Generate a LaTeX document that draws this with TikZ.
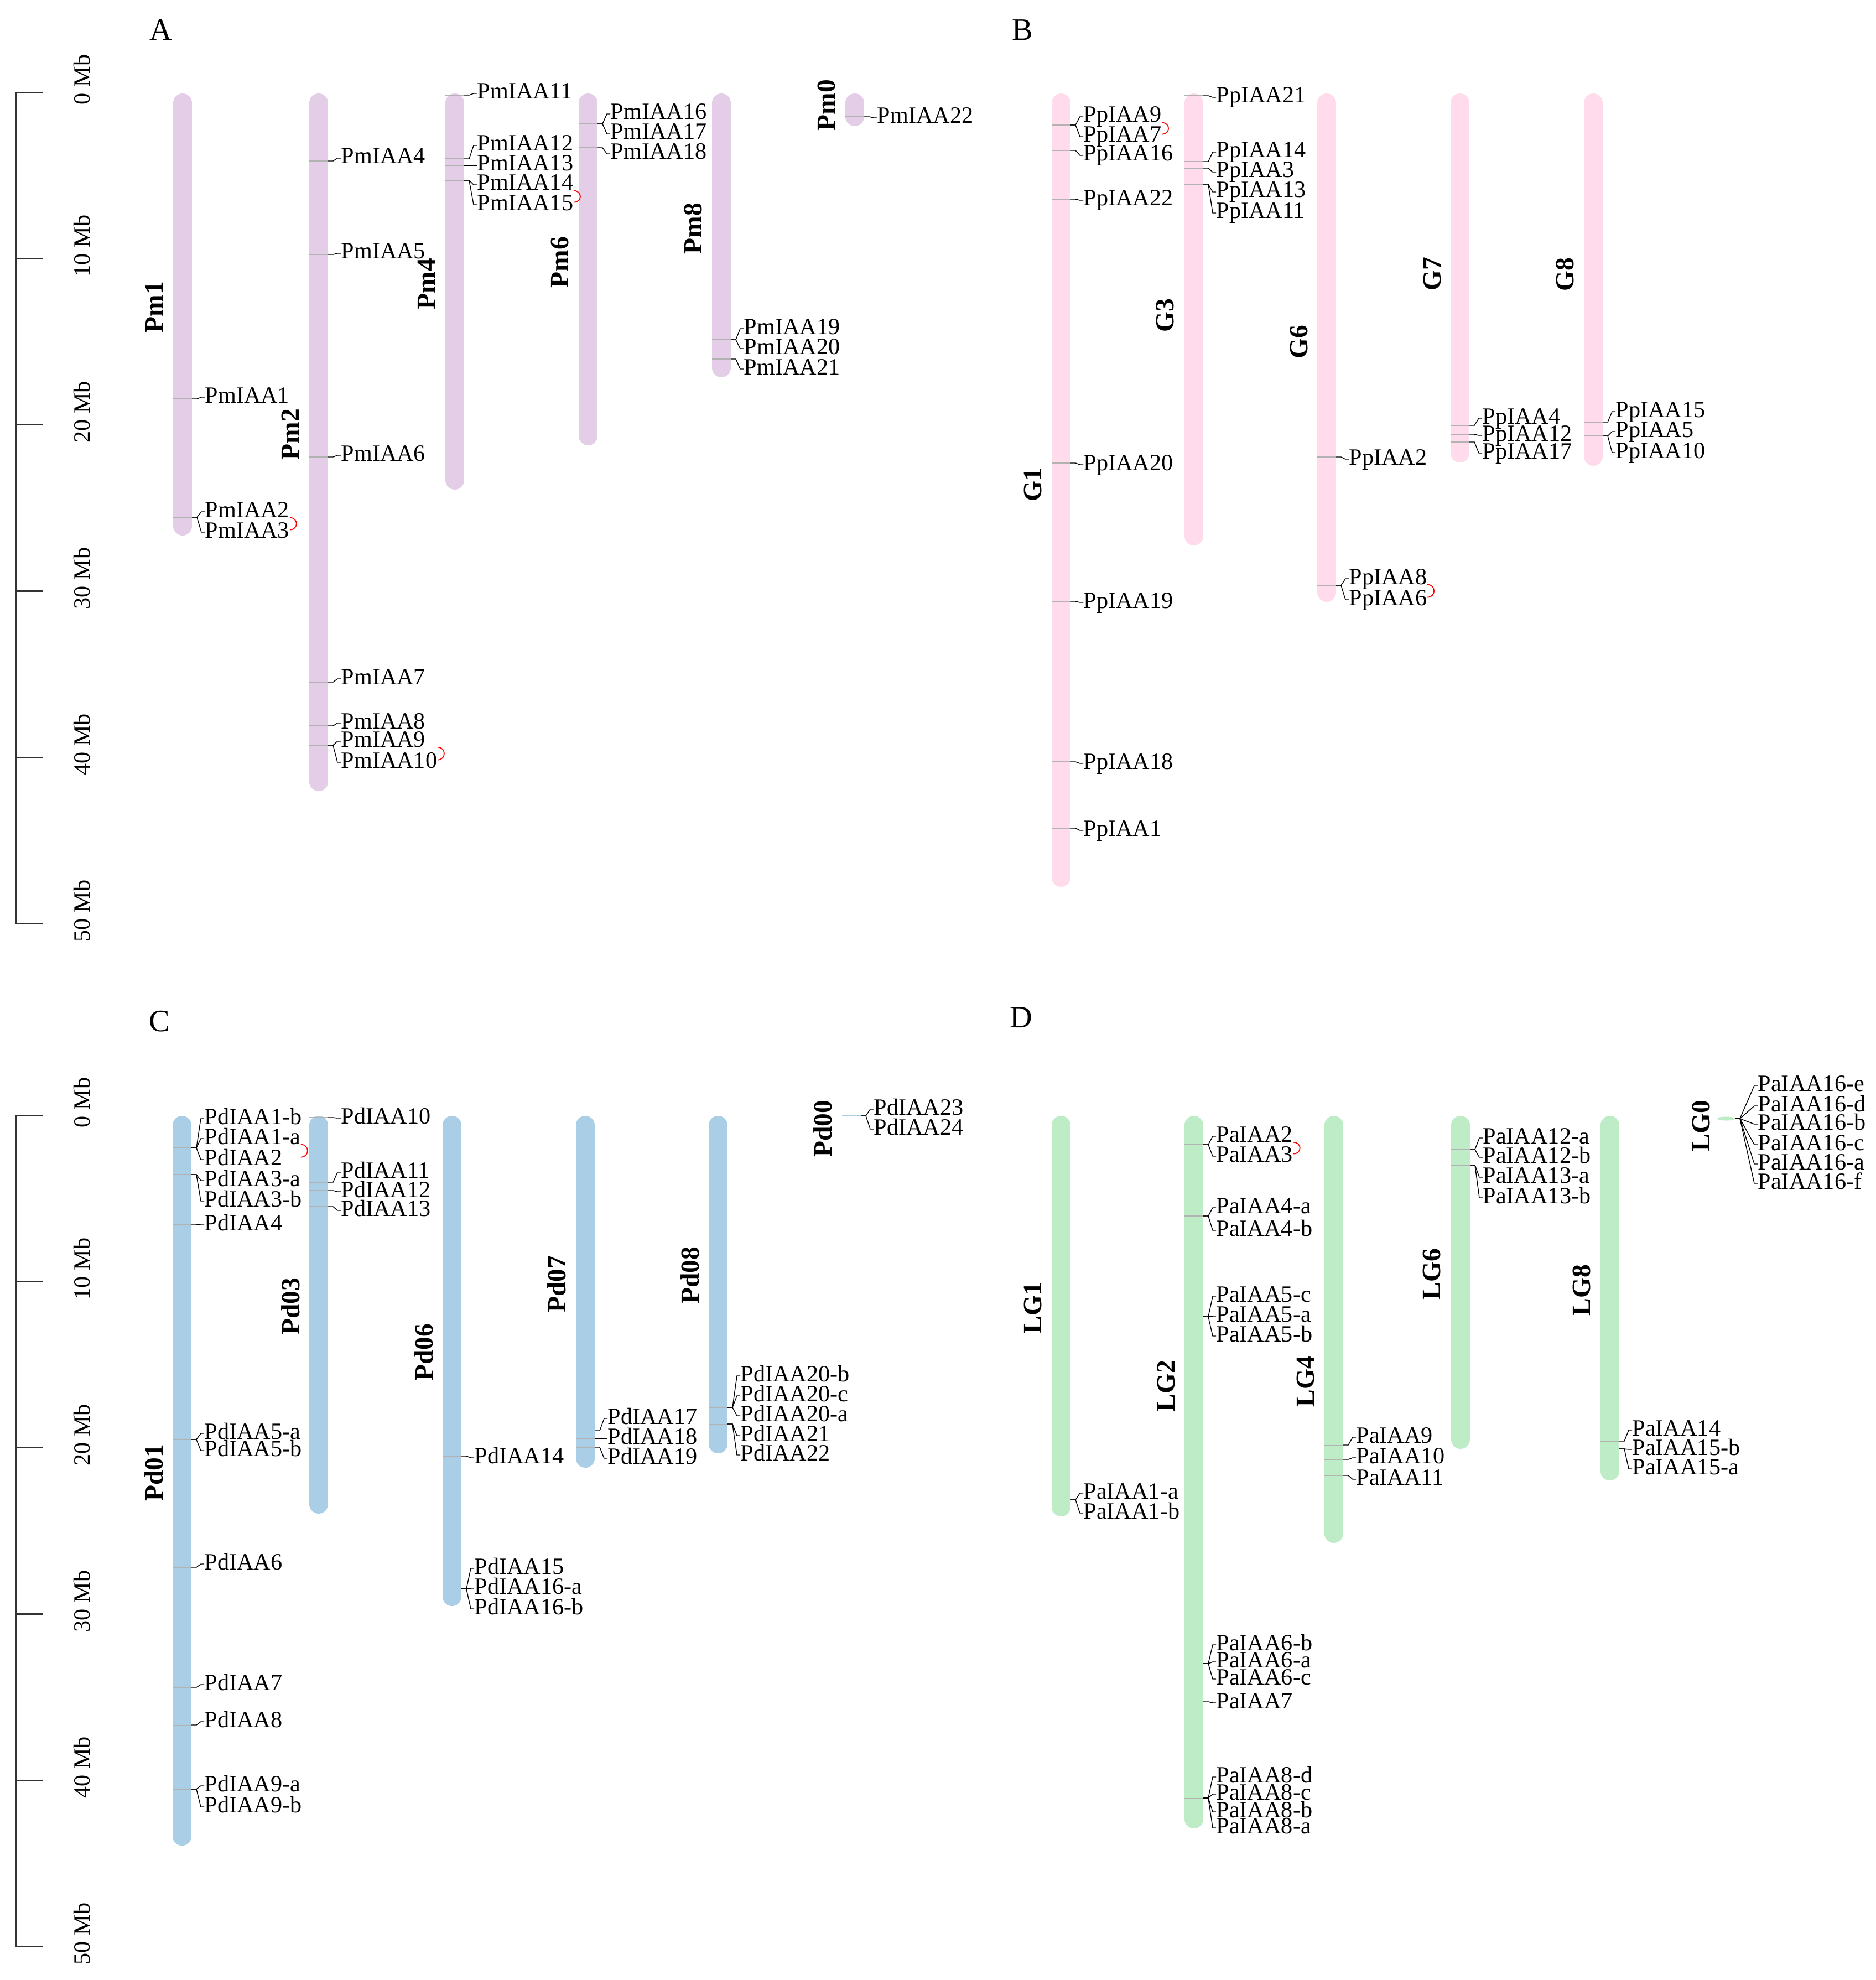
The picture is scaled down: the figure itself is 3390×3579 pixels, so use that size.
\documentclass[tikz,border=0pt]{standalone}
\usepackage{fontspec}
\setmainfont{Liberation Serif}
\usetikzlibrary{calc}

\definecolor{chrA}{HTML}{E3CDE7}
\definecolor{chrB}{HTML}{FFDBEC}
\definecolor{chrC}{HTML}{A9CEE5}
\definecolor{chrD}{HTML}{BEECC7}

\tikzset{%
  chromo/.style={line width=0.34cm, line cap=round},
  band/.style={draw=black!30, line width=0.3pt},
  gene/.style={
    anchor=base west,
    inner sep=0pt,
    text height=8.2pt,
    text depth=0pt,
    font=\fontsize{12}{12}\selectfont
  },
  link/.style={draw=black, line width=0.4pt},
  tandem/.style={draw=red, line width=0.5pt},
  chrname/.style={rotate=90, font=\fontsize{13.5}{13.5}\selectfont\bfseries},
  panel/.style={font=\fontsize{16}{16}\selectfont},
  ruler/.style={draw=black!80, line width=0.6pt},
  mb/.style={rotate=90, font=\fontsize{12}{12}\selectfont},
}

\newcommand{\locmark}[3]{%
  \draw[band] (#2-17,#3) -- (#2+17,#3) coordinate (#1);
}
\newcommand{\gene}[4]{%
  \node[gene] (#4) at (#2+40,#3) {#4};
  \draw[link] (#1) -- ++(9,0) -- ($(#4.base west)+(-6,-10)$) -- ($(#4.base west)+(0,-10)$);
}
\newcommand{\tandempair}[3]{%
  \draw[tandem] (#1.south -| #3.east) .. controls +(16,0) and +(16,0) .. (#2.east -| #3.east);
}

\begin{document}
\begin{tikzpicture}[x=0.01cm,y=-0.01cm]
\useasboundingbox (0,0) rectangle (3390,3579);

\node[panel] (A) at (291,54) {A};
\node[panel] (B) at (1848,54) {B};
\node[panel] (C) at (288,1846) {C};
\node[panel] (D) at (1846,1839) {D};

% scale bars
\draw[ruler] (29,167) -- (29,1669.5);
\draw[ruler] (29,167) -- (78,167);
\draw[ruler] (29,467.5) -- (78,467.5);
\draw[ruler] (29,768) -- (78,768);
\draw[ruler] (29,1068.5) -- (78,1068.5);
\draw[ruler] (29,1369) -- (78,1369);
\draw[ruler] (29,1669.5) -- (78,1669.5);
\node[mb] (sa0) at (148,144) {0 Mb};
\node[mb] (sa1) at (148,444.5) {10 Mb};
\node[mb] (sa2) at (148,745) {20 Mb};
\node[mb] (sa3) at (148,1045.5) {30 Mb};
\node[mb] (sa4) at (148,1346) {40 Mb};
\node[mb] (sa5) at (148,1646.5) {50 Mb};

\draw[ruler] (29,2016) -- (29,3518.5);
\draw[ruler] (29,2016) -- (78,2016);
\draw[ruler] (29,2316.5) -- (78,2316.5);
\draw[ruler] (29,2617) -- (78,2617);
\draw[ruler] (29,2917.5) -- (78,2917.5);
\draw[ruler] (29,3218) -- (78,3218);
\draw[ruler] (29,3518.5) -- (78,3518.5);
\node[mb] (sc0) at (148,1993) {0 Mb};
\node[mb] (sc1) at (148,2293.5) {10 Mb};
\node[mb] (sc2) at (148,2594) {20 Mb};
\node[mb] (sc3) at (148,2894.5) {30 Mb};
\node[mb] (sc4) at (148,3195) {40 Mb};
\node[mb] (sc5) at (148,3495.5) {50 Mb};

% A
\draw[chromo, chrA] (330,186) -- (330,951);
\draw[chromo, chrA] (576,186) -- (576,1413);
\draw[chromo, chrA] (822,186) -- (822,868);
\draw[chromo, chrA] (1063,186) -- (1063,788);
\draw[chromo, chrA] (1304,186) -- (1304,665);
\draw[chromo, chrA] (1545,186) -- (1545,211);
\node[chrname] (Pm1) at (279,555) {Pm1};
\node[chrname] (Pm2) at (525,785) {Pm2};
\node[chrname] (Pm4) at (771,513) {Pm4};
\node[chrname] (Pm6) at (1012,474) {Pm6};
\node[chrname] (Pm8) at (1253,413) {Pm8};
\node[chrname] (Pm0) at (1494,190) {Pm0};

\locmark{a1}{330}{721}
\gene{a1}{330}{728}{PmIAA1}
\locmark{a2}{330}{935}
\gene{a2}{330}{935}{PmIAA2}
\gene{a2}{330}{972}{PmIAA3}
\tandempair{PmIAA2}{PmIAA3}{PmIAA3}

\locmark{a4}{576}{291}
\gene{a4}{576}{296}{PmIAA4}
\locmark{a5}{576}{460}
\gene{a5}{576}{468}{PmIAA5}
\locmark{a6}{576}{826}
\gene{a6}{576}{833}{PmIAA6}
\locmark{a7}{576}{1233}
\gene{a7}{576}{1237}{PmIAA7}
\locmark{a8}{576}{1312}
\gene{a8}{576}{1317}{PmIAA8}
\locmark{a9}{576}{1347}
\gene{a9}{576}{1350}{PmIAA9}
\gene{a9}{576}{1388}{PmIAA10}
\tandempair{PmIAA9}{PmIAA10}{PmIAA10}

\locmark{a11}{822}{172}
\gene{a11}{822}{179}{PmIAA11}
\locmark{a12}{822}{287}
\gene{a12}{822}{273}{PmIAA12}
\locmark{a13}{822}{299}
\gene{a13}{822}{309}{PmIAA13}
\locmark{a14}{822}{326}
\gene{a14}{822}{344}{PmIAA14}
\gene{a14}{822}{380}{PmIAA15}
\tandempair{PmIAA14}{PmIAA15}{PmIAA15}

\locmark{a16}{1063}{224}
\gene{a16}{1063}{216}{PmIAA16}
\gene{a16}{1063}{252}{PmIAA17}
\locmark{a18}{1063}{267}
\gene{a18}{1063}{288}{PmIAA18}

\locmark{a19}{1304}{614}
\gene{a19}{1304}{604}{PmIAA19}
\gene{a19}{1304}{640}{PmIAA20}
\locmark{a21}{1304}{649}
\gene{a21}{1304}{677}{PmIAA21}

\locmark{a22}{1545}{211}
\gene{a22}{1545}{223}{PmIAA22}

% B
\draw[chromo, chrB] (1918,186) -- (1918,1586);
\draw[chromo, chrB] (2158,186) -- (2158,969);
\draw[chromo, chrB] (2398,186) -- (2398,1071);
\draw[chromo, chrB] (2639,186) -- (2639,819);
\draw[chromo, chrB] (2880,186) -- (2880,825);
\node[chrname] (G1) at (1867,876) {G1};
\node[chrname] (G3) at (2106,570) {G3};
\node[chrname] (G6) at (2348,618) {G6};
\node[chrname] (G7) at (2589,495) {G7};
\node[chrname] (G8) at (2829,496) {G8};

\locmark{b9}{1918}{226}
\gene{b9}{1918}{221}{PpIAA9}
\gene{b9}{1918}{257}{PpIAA7}
\tandempair{PpIAA9}{PpIAA7}{PpIAA7}
\locmark{b16}{1918}{272}
\gene{b16}{1918}{291}{PpIAA16}
\locmark{b22}{1918}{360}
\gene{b22}{1918}{372}{PpIAA22}
\locmark{b20}{1918}{837}
\gene{b20}{1918}{850}{PpIAA20}
\locmark{b19}{1918}{1087}
\gene{b19}{1918}{1099}{PpIAA19}
\locmark{b18}{1918}{1377}
\gene{b18}{1918}{1390}{PpIAA18}
\locmark{b1}{1918}{1497}
\gene{b1}{1918}{1511}{PpIAA1}

\locmark{b21}{2158}{173}
\gene{b21}{2158}{186}{PpIAA21}
\locmark{b14}{2158}{292}
\gene{b14}{2158}{285}{PpIAA14}
\locmark{b3}{2158}{304}
\gene{b3}{2158}{321}{PpIAA3}
\locmark{b13}{2158}{333}
\gene{b13}{2158}{357}{PpIAA13}
\gene{b13}{2158}{395}{PpIAA11}

\locmark{b2}{2398}{826}
\gene{b2}{2398}{840}{PpIAA2}
\locmark{b8}{2398}{1058}
\gene{b8}{2398}{1056}{PpIAA8}
\gene{b8}{2398}{1094}{PpIAA6}
\tandempair{PpIAA8}{PpIAA6}{PpIAA6}

\locmark{b4}{2639}{769}
\gene{b4}{2639}{766}{PpIAA4}
\locmark{b12}{2639}{785}
\gene{b12}{2639}{797}{PpIAA12}
\locmark{b17}{2639}{799}
\gene{b17}{2639}{829}{PpIAA17}

\locmark{b15}{2880}{763}
\gene{b15}{2880}{754}{PpIAA15}
\locmark{b5}{2880}{788}
\gene{b5}{2880}{790}{PpIAA5}
\gene{b5}{2880}{828}{PpIAA10}

% C
\draw[chromo, chrC] (329,2034) -- (329,3319);
\draw[chromo, chrC] (576,2034) -- (576,2719);
\draw[chromo, chrC] (817,2034) -- (817,2886);
\draw[chromo, chrC] (1058,2034) -- (1058,2636);
\draw[chromo, chrC] (1298,2034) -- (1298,2610);
\draw[chrC, line width=0.025cm] (1522,2017) -- (1556,2017);
\node[chrname] (Pd01) at (278,2662) {Pd01};
\node[chrname] (Pd03) at (525,2361) {Pd03};
\node[chrname] (Pd06) at (766,2444) {Pd06};
\node[chrname] (Pd07) at (1006,2321) {Pd07};
\node[chrname] (Pd08) at (1247,2305) {Pd08};
\node[chrname] (Pd00) at (1487,2040) {Pd00};

\locmark{c1}{329}{2075}
\gene{c1}{329}{2032}{PdIAA1-b}
\gene{c1}{329}{2068}{PdIAA1-a}
\gene{c1}{329}{2106}{PdIAA2}
\tandempair{PdIAA1-a}{PdIAA2}{PdIAA1-a}
\locmark{c3}{329}{2123}
\gene{c3}{329}{2144}{PdIAA3-a}
\gene{c3}{329}{2181}{PdIAA3-b}
\locmark{c4}{329}{2213}
\gene{c4}{329}{2224}{PdIAA4}
\locmark{c5}{329}{2602}
\gene{c5}{329}{2601}{PdIAA5-a}
\gene{c5}{329}{2632}{PdIAA5-b}
\locmark{c6}{329}{2833}
\gene{c6}{329}{2837}{PdIAA6}
\locmark{c7}{329}{3050}
\gene{c7}{329}{3055}{PdIAA7}
\locmark{c8}{329}{3118}
\gene{c8}{329}{3122}{PdIAA8}
\locmark{c9}{329}{3234}
\gene{c9}{329}{3238}{PdIAA9-a}
\gene{c9}{329}{3276}{PdIAA9-b}

\locmark{c10}{576}{2020}
\gene{c10}{576}{2031}{PdIAA10}
\locmark{c11}{576}{2137}
\gene{c11}{576}{2129}{PdIAA11}
\locmark{c12}{576}{2152}
\gene{c12}{576}{2164}{PdIAA12}
\locmark{c13}{576}{2181}
\gene{c13}{576}{2198}{PdIAA13}

\locmark{c14}{817}{2632}
\gene{c14}{817}{2645}{PdIAA14}
\locmark{c15}{817}{2872}
\gene{c15}{817}{2845}{PdIAA15}
\gene{c15}{817}{2881}{PdIAA16-a}
\gene{c15}{817}{2918}{PdIAA16-b}

\locmark{c17}{1058}{2586}
\gene{c17}{1058}{2574}{PdIAA17}
\locmark{c18}{1058}{2600}
\gene{c18}{1058}{2610}{PdIAA18}
\locmark{c19}{1058}{2616}
\gene{c19}{1058}{2646}{PdIAA19}

\locmark{c20}{1298}{2544}
\gene{c20}{1298}{2497}{PdIAA20-b}
\gene{c20}{1298}{2533}{PdIAA20-c}
\gene{c20}{1298}{2569}{PdIAA20-a}
\locmark{c21}{1298}{2574}
\gene{c21}{1298}{2605}{PdIAA21}
\gene{c21}{1298}{2640}{PdIAA22}

\coordinate (c23) at (1556,2017);
\gene{c23}{1539}{2015}{PdIAA23}
\gene{c23}{1539}{2051}{PdIAA24}

% D
\draw[chromo, chrD] (1918,2034) -- (1918,2724);
\draw[chromo, chrD] (2158,2034) -- (2158,3288);
\draw[chromo, chrD] (2411,2034) -- (2411,2772);
\draw[chromo, chrD] (2640,2034) -- (2640,2602);
\draw[chromo, chrD] (2910,2034) -- (2910,2659);
\fill[chrD] (3120,2022) ellipse [x radius=0.16cm, y radius=0.035cm];
\node[chrname] (LG1) at (1867,2364) {LG1};
\node[chrname] (LG2) at (2108,2505) {LG2};
\node[chrname] (LG4) at (2360,2497) {LG4};
\node[chrname] (LG6) at (2588,2303) {LG6};
\node[chrname] (LG8) at (2859,2332) {LG8};
\node[chrname] (LG0) at (3075,2035) {LG0};

\locmark{d1}{1918}{2711}
\gene{d1}{1918}{2709}{PaIAA1-a}
\gene{d1}{1918}{2745}{PaIAA1-b}

\locmark{d2}{2158}{2069}
\gene{d2}{2158}{2064}{PaIAA2}
\gene{d2}{2158}{2100}{PaIAA3}
\tandempair{PaIAA2}{PaIAA3}{PaIAA3}
\locmark{d4}{2158}{2198}
\gene{d4}{2158}{2193}{PaIAA4-a}
\gene{d4}{2158}{2234}{PaIAA4-b}
\locmark{d5}{2158}{2380}
\gene{d5}{2158}{2353}{PaIAA5-c}
\gene{d5}{2158}{2389}{PaIAA5-a}
\gene{d5}{2158}{2425}{PaIAA5-b}
\locmark{d6}{2158}{3007}
\gene{d6}{2158}{2983}{PaIAA6-b}
\gene{d6}{2158}{3014}{PaIAA6-a}
\gene{d6}{2158}{3045}{PaIAA6-c}
\locmark{d7}{2158}{3076}
\gene{d7}{2158}{3088}{PaIAA7}
\locmark{d8}{2158}{3250}
\gene{d8}{2158}{3222}{PaIAA8-d}
\gene{d8}{2158}{3253}{PaIAA8-c}
\gene{d8}{2158}{3285}{PaIAA8-b}
\gene{d8}{2158}{3314}{PaIAA8-a}

\locmark{d9}{2411}{2612}
\gene{d9}{2411}{2608}{PaIAA9}
\locmark{d10}{2411}{2638}
\gene{d10}{2411}{2645}{PaIAA10}
\locmark{d11}{2411}{2667}
\gene{d11}{2411}{2684}{PaIAA11}

\locmark{d12}{2640}{2078}
\gene{d12}{2640}{2067}{PaIAA12-a}
\gene{d12}{2640}{2102}{PaIAA12-b}
\locmark{d13}{2640}{2106}
\gene{d13}{2640}{2138}{PaIAA13-a}
\gene{d13}{2640}{2175}{PaIAA13-b}

\locmark{d14}{2910}{2605}
\gene{d14}{2910}{2595}{PaIAA14}
\locmark{d15}{2910}{2619}
\gene{d15}{2910}{2630}{PaIAA15-b}
\gene{d15}{2910}{2665}{PaIAA15-a}

\coordinate (d16) at (3136,2022);
\gene{d16}{3137}{1972}{PaIAA16-e}
\gene{d16}{3137}{2009}{PaIAA16-d}
\gene{d16}{3137}{2042}{PaIAA16-b}
\gene{d16}{3137}{2079}{PaIAA16-c}
\gene{d16}{3137}{2114}{PaIAA16-a}
\gene{d16}{3137}{2149}{PaIAA16-f}
\end{tikzpicture}
\end{document}
